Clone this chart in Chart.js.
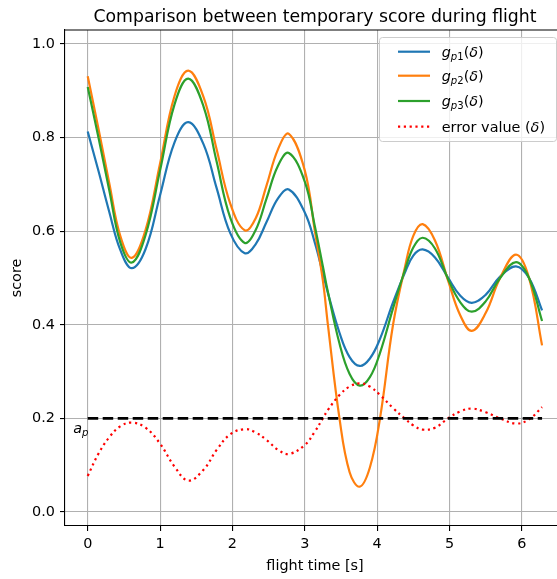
<!DOCTYPE html>
<html>
<head>
<meta charset="utf-8">
<script src="https://cdn.jsdelivr.net/npm/chart.js@4.4.1/dist/chart.umd.min.js"></script>
<style>
  html, body { margin: 0; padding: 0; background: #fff; overflow: hidden; }
  #wrap { position: absolute; left: 0; top: 0; width: 566px; height: 579px; }
</style>
</head>
<body>
<div id="wrap"><canvas id="chart" width="566" height="579"></canvas></div>
<script>
// Datos
const flightTime = [0, 0.15, 0.3, 0.45, 0.61, 0.8, 1.0, 1.2, 1.39, 1.6, 1.78, 1.97, 2.17, 2.32, 2.47, 2.63, 2.78, 3.0, 3.14, 3.25,
    3.32, 3.48, 3.62, 3.76, 3.9, 4.04, 4.22, 4.38, 4.5, 4.63, 4.8, 4.98, 5.15, 5.31, 5.5, 5.7, 5.92, 6.1, 6.28];
const gp1 = [0.813, 0.728, 0.640, 0.560, 0.521, 0.562, 0.677, 0.790, 0.833, 0.786, 0.693, 0.596, 0.553, 0.572, 0.619, 0.670, 0.689, 0.640, 0.575, 0.510,
    0.468, 0.383, 0.331, 0.312, 0.328, 0.370, 0.448, 0.510, 0.548, 0.561, 0.544, 0.501, 0.462, 0.447, 0.464, 0.503, 0.525, 0.500, 0.431];
const gp2 = [0.931, 0.818, 0.701, 0.590, 0.543, 0.603, 0.745, 0.889, 0.943, 0.887, 0.776, 0.659, 0.602, 0.627, 0.697, 0.775, 0.808, 0.730, 0.600, 0.495,
    0.400, 0.200, 0.085, 0.054, 0.095, 0.200, 0.400, 0.520, 0.590, 0.615, 0.580, 0.495, 0.420, 0.387, 0.425, 0.500, 0.550, 0.500, 0.356];
const gp3 = [0.908, 0.799, 0.686, 0.576, 0.533, 0.592, 0.730, 0.871, 0.926, 0.867, 0.750, 0.629, 0.575, 0.602, 0.669, 0.740, 0.767, 0.706, 0.610, 0.525,
    0.470, 0.360, 0.295, 0.270, 0.288, 0.340, 0.435, 0.515, 0.565, 0.586, 0.563, 0.498, 0.448, 0.428, 0.450, 0.500, 0.534, 0.500, 0.408];
const errorValue = [0.077, 0.125, 0.160, 0.183, 0.191, 0.180, 0.146, 0.097, 0.067, 0.090, 0.132, 0.166, 0.177, 0.170, 0.154, 0.133, 0.124, 0.143, 0.172, 0.200,
    0.218, 0.250, 0.268, 0.275, 0.268, 0.250, 0.222, 0.200, 0.185, 0.176, 0.180, 0.200, 0.215, 0.221, 0.213, 0.200, 0.189, 0.198, 0.224];

// Umbral a_p
const apTime = [0, 6.28];
const apLevel = [0.2, 0.2];

// Marcas de los ejes
const xTicks = [0, 1, 2, 3, 4, 5, 6];
const yTicks = [0.0, 0.2, 0.4, 0.6, 0.8, 1.0];

const chartTitle = 'Comparison between temporary score during flight';
const xTitle = 'flight time [s]';
const yTitle = 'score';

// Leyenda en piezas de texto matemático: [texto, estilo]
const legendItems = [
    { color: '#1f77b4', dash: [], parts: [['g', 'i'], ['p', 'si'], ['1', 'sr'], ['(', 'r'], ['δ', 'i'], [')', 'r']] },
    { color: '#ff7f0e', dash: [], parts: [['g', 'i'], ['p', 'si'], ['2', 'sr'], ['(', 'r'], ['δ', 'i'], [')', 'r']] },
    { color: '#2ca02c', dash: [], parts: [['g', 'i'], ['p', 'si'], ['3', 'sr'], ['(', 'r'], ['δ', 'i'], [')', 'r']] },
    { color: 'red', dash: [2.2, 3.6], parts: [['error value (', 'r'], ['δ', 'i'], [')', 'r']] }
];

const FONT = '"DejaVu Sans", sans-serif';
const toPoints = (xs, ys) => xs.map((x, i) => ({ x: x, y: ys[i] }));

// Dibuja texto con subíndices
function drawMath(ctx, parts, x, y, size) {
    parts.forEach(([text, style]) => {
        const sub = style[0] === 's';
        const italic = style.endsWith('i');
        const fs = sub ? size * 0.7 : size;
        ctx.font = (italic ? 'italic ' : '') + fs + 'px ' + FONT;
        ctx.fillText(text, x, sub ? y + size * 0.2 : y);
        x += ctx.measureText(text).width;
    });
}

const decorPlugin = {
    id: 'decor',
    afterDraw(chart) {
        const ctx = chart.ctx;
        const area = chart.chartArea;
        const xs = chart.scales.x, ys = chart.scales.y;
        ctx.save();

        // borde superior
        ctx.strokeStyle = '#000';
        ctx.lineWidth = 1.1;
        ctx.beginPath();
        ctx.moveTo(area.left, area.top);
        ctx.lineTo(area.right, area.top);
        ctx.stroke();

        // título
        ctx.fillStyle = '#000';
        ctx.textAlign = 'center';
        ctx.textBaseline = 'alphabetic';
        ctx.font = '17.3px ' + FONT;
        ctx.fillText(chartTitle, (area.left + area.right) / 2, area.top - 8.5);

        // etiqueta a_p
        ctx.textAlign = 'left';
        drawMath(ctx, [['a', 'i'], ['p', 'si']], xs.getPixelForValue(-0.2), ys.getPixelForValue(0.2) + 15, 14.4);

        // leyenda
        const bx = area.right - 186, by = area.top + 7, bw = 177, bh = 104;
        ctx.beginPath();
        ctx.roundRect(bx + 0.5, by + 0.5, bw, bh, 3);
        ctx.fillStyle = 'rgba(255,255,255,0.8)';
        ctx.fill();
        ctx.strokeStyle = '#cccccc';
        ctx.lineWidth = 1;
        ctx.stroke();

        const rows = [14.7, 38.7, 64, 89.7];
        legendItems.forEach((item, i) => {
            const yy = by + rows[i];
            ctx.strokeStyle = item.color;
            ctx.lineWidth = 2.2;
            ctx.setLineDash(item.dash);
            ctx.lineCap = 'butt';
            ctx.beginPath();
            ctx.moveTo(bx + 19, yy);
            ctx.lineTo(bx + 51, yy);
            ctx.stroke();
            ctx.setLineDash([]);
            ctx.fillStyle = '#000';
            drawMath(ctx, item.parts, bx + 62.7, yy + 5, 14.4);
        });
        ctx.restore();
    }
};

const curve = (label, xs, ys, color, order) => ({
    label: label,
    data: toPoints(xs, ys),
    borderColor: color,
    borderWidth: 2.2,
    pointRadius: 0,
    fill: false,
    tension: 0.4,
    borderJoinStyle: 'round',
    order: order
});

new Chart(document.getElementById('chart'), {
    type: 'line',
    data: {
        datasets: [
            curve('gp1', flightTime, gp1, '#1f77b4', 5),
            curve('gp2', flightTime, gp2, '#ff7f0e', 4),
            curve('gp3', flightTime, gp3, '#2ca02c', 3),
            Object.assign(curve('error', flightTime, errorValue, 'red', 2), {
                borderDash: [2.2, 3.6], borderCapStyle: 'butt'
            }),
            {
                label: 'ap',
                data: toPoints(apTime, apLevel),
                borderColor: '#000',
                borderWidth: 2.8,
                borderDash: [10.5, 4.5],
                borderCapStyle: 'butt',
                pointRadius: 0,
                fill: false,
                order: 1
            }
        ]
    },
    options: {
        responsive: false,
        animation: false,
        devicePixelRatio: 1,
        layout: { padding: { top: 30, right: 1, left: 0, bottom: 0 } },
        plugins: {
            legend: { display: false },
            title: { display: false },
            tooltip: { enabled: false }
        },
        scales: {
            x: {
                type: 'linear',
                min: -0.314,
                max: 6.597,
                afterFit: s => { s.height = 53; },
                afterBuildTicks: s => { s.ticks = xTicks.map(v => ({ value: v })); },
                grid: { color: '#b0b0b0', lineWidth: 1.1, tickColor: '#000', tickLength: 5, drawTicks: true },
                border: { color: '#000', width: 1.1 },
                ticks: { padding: 5, color: '#000', font: { family: FONT, size: 14.4 }, maxRotation: 0, callback: v => String(v) },
                title: { display: true, text: xTitle, color: '#000', font: { family: FONT, size: 14.4 }, padding: { top: 0, bottom: 4 } }
            },
            y: {
                type: 'linear',
                min: -0.03,
                max: 1.03,
                afterFit: s => { s.width = 65; },
                afterBuildTicks: s => { s.ticks = yTicks.map(v => ({ value: v })); },
                grid: { color: '#b0b0b0', lineWidth: 1.1, tickColor: '#000', tickLength: 5, drawTicks: true },
                border: { color: '#000', width: 1.1 },
                ticks: { padding: 5, color: '#000', font: { family: FONT, size: 14.4 }, callback: v => v.toFixed(1) },
                title: { display: true, text: yTitle, color: '#000', font: { family: FONT, size: 14.4 }, padding: { top: 9, bottom: 0 } }
            }
        }
    },
    plugins: [decorPlugin]
});
</script>
</body>
</html>
